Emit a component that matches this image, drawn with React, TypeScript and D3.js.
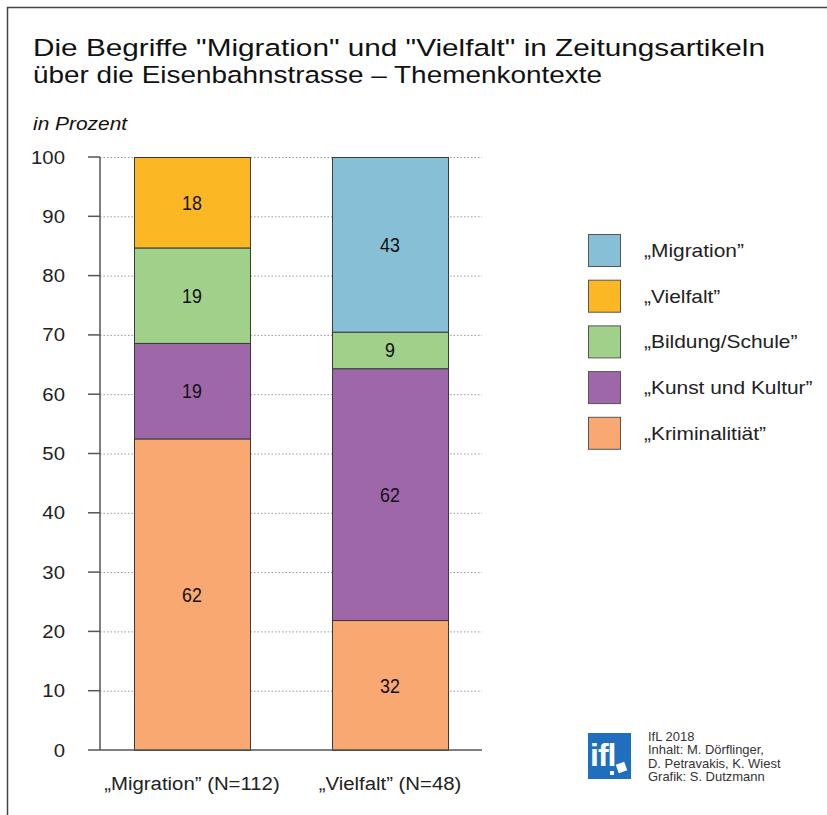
import { useEffect, useRef } from "react";
import * as d3 from "d3";

// counts of articles per topic context (bar heights are shares of the column total)
const groups = ["„Migration” (N=112)", "„Vielfalt” (N=48)"];
const topics = ["Kriminalitiät", "Kunst und Kultur", "Bildung/Schule", "Vielfalt", "Migration"];
const migrationCounts = [62, 19, 19, 18, 0];
const vielfaltCounts = [32, 62, 9, 0, 43];
const topicColors = ["#f8a870", "#9e67aa", "#a0d08a", "#fbb824", "#86bfd6"];
const legendOrder = ["Migration", "Vielfalt", "Bildung/Schule", "Kunst und Kultur", "Kriminalitiät"];
const yTicks = [0, 10, 20, 30, 40, 50, 60, 70, 80, 90, 100];
const titleLines = ['Die Begriffe "Migration" und "Vielfalt" in Zeitungsartikeln', "über die Eisenbahnstrasse – Themenkontexte"];
const creditLines = ["IfL 2018", "Inhalt: M. Dörflinger,", "D. Petravakis, K. Wiest", "Grafik: S. Dutzmann"];

const W = 827;
const H = 815;
const FONT = "'Liberation Sans', Arial, Helvetica, sans-serif";
const STRETCH = 1.13; // reference type is set a bit wide

export default function App() {
  const ref = useRef<SVGSVGElement | null>(null);

  useEffect(() => {
    const svg = d3.select(ref.current);
    svg.selectAll("*").remove();

    // frame: top and left edges only
    svg.append("line").attr("x1", 7).attr("x2", W).attr("y1", 7.5).attr("y2", 7.5)
      .attr("stroke", "#444").attr("stroke-width", 1.5);
    svg.append("line").attr("x1", 7.5).attr("x2", 7.5).attr("y1", 7).attr("y2", H)
      .attr("stroke", "#444").attr("stroke-width", 1.5);

    // title, fitted to the reference's line widths
    const titleWidths = [732, 569];
    titleLines.forEach((t, i) => {
      svg.append("text").attr("x", 33).attr("y", 55.5 + i * 27.5)
        .attr("font-family", FONT).attr("font-size", 24.5).attr("fill", "#111")
        .attr("textLength", titleWidths[i]).attr("lengthAdjust", "spacingAndGlyphs").text(t);
    });

    svg.append("text").attr("class", "wide").attr("x", 33).attr("y", 130).attr("font-family", FONT)
      .attr("font-style", "italic").attr("font-size", 18.5).attr("fill", "#111").text("in Prozent");

    const axisX = 100;
    const plotRight = 482;
    const y = d3.scaleLinear().domain([0, 100]).range([750, 157]);
    const x = d3.scaleBand().domain(groups).range([134, 448]).paddingInner(0.414).paddingOuter(0);

    // gridlines
    svg.append("g").selectAll("line").data(yTicks.filter((t) => t > 0)).join("line")
      .attr("x1", axisX).attr("x2", plotRight)
      .attr("y1", (d) => y(d) + 0.5).attr("y2", (d) => y(d) + 0.5)
      .attr("stroke", "#999").attr("stroke-width", 1).attr("stroke-dasharray", "1.5 2");

    // stacked bars
    const countsByGroup = [migrationCounts, vielfaltCounts];
    groups.forEach((g, gi) => {
      const counts = countsByGroup[gi];
      const total = d3.sum(counts);
      let acc = 0;
      counts.forEach((c, ti) => {
        if (c === 0) return;
        const y0 = (acc / total) * 100;
        acc += c;
        const y1 = (acc / total) * 100;
        svg.append("rect")
          .attr("x", x(g)! + 0.5).attr("width", x.bandwidth())
          .attr("y", y(y1) + 0.5).attr("height", y(y0) - y(y1))
          .attr("fill", topicColors[ti]).attr("stroke", "#3a3a3a").attr("stroke-width", 1);
        svg.append("text").attr("class", "narrow")
          .attr("x", x(g)! + x.bandwidth() / 2).attr("y", (y(y0) + y(y1)) / 2 + 7.5)
          .attr("text-anchor", "middle").attr("font-family", FONT)
          .attr("font-size", 21).attr("fill", "#111").text(c);
      });
    });

    // axes
    const axis = svg.append("g").attr("stroke", "#555").attr("stroke-width", 1.5);
    axis.append("line").attr("x1", axisX).attr("x2", axisX).attr("y1", y(100)).attr("y2", y(0));
    axis.append("line").attr("x1", 88).attr("x2", plotRight).attr("y1", y(0)).attr("y2", y(0));
    svg.append("g").selectAll("line").data(yTicks.filter((t) => t > 0)).join("line")
      .attr("x1", 88).attr("x2", axisX).attr("y1", (d) => y(d)).attr("y2", (d) => y(d))
      .attr("stroke", "#555").attr("stroke-width", 1.5);
    svg.append("g").selectAll("text").data(yTicks).join("text")
      .attr("class", "wide")
      .attr("x", 65).attr("y", (d) => y(d) + 6.5).attr("text-anchor", "end")
      .attr("font-family", FONT).attr("font-size", 18).attr("fill", "#222").text((d) => d);

    // category labels
    svg.append("g").selectAll("text").data(groups).join("text")
      .attr("class", "wide")
      .attr("x", (d) => x(d)! + x.bandwidth() / 2).attr("y", 790).attr("text-anchor", "middle")
      .attr("font-family", FONT).attr("font-size", 18).attr("fill", "#222").text((d) => d);

    // legend
    const legend = svg.append("g").attr("transform", "translate(588, 234)");
    legendOrder.forEach((name, i) => {
      const ti = topics.indexOf(name);
      const row = legend.append("g").attr("transform", `translate(0, ${i * 45.7})`);
      row.append("rect").attr("x", 0.5).attr("y", 0.5).attr("width", 32).attr("height", 32)
        .attr("fill", topicColors[ti]).attr("stroke", "#555").attr("stroke-width", 1);
      row.append("text").attr("class", "wide").attr("x", 56).attr("y", 23).attr("font-family", FONT)
        .attr("font-size", 18.5).attr("fill", "#222").text(`„${name}”`);
    });

    // credits with logo
    const logo = svg.append("g").attr("transform", "translate(588, 733)");
    logo.append("rect").attr("width", 43).attr("height", 46).attr("fill", "#1f6fbe");
    logo.append("text").attr("x", 2).attr("y", 33).attr("font-family", FONT).attr("font-weight", "bold")
      .attr("font-size", 32).attr("fill", "#fff").attr("letter-spacing", -1).text("ifl");
    logo.append("rect").attr("x", 29).attr("y", 30).attr("width", 9).attr("height", 9)
      .attr("fill", "#fff").attr("transform", "rotate(-20 33.5 34.5)");
    logo.append("rect").attr("x", 22).attr("y", 38).attr("width", 4).attr("height", 4).attr("fill", "#fff");
    creditLines.forEach((l, i) => {
      svg.append("text").attr("x", 648).attr("y", 741 + i * 13.4)
        .attr("font-family", FONT).attr("font-size", 13.5).attr("fill", "#333")
        .attr("class", "credit").text(l);
    });

    // set widths to match the reference's type
    const fit = (sel: string, k: number) =>
      svg.selectAll<SVGTextElement, unknown>(sel).each(function () {
        const len = this.getComputedTextLength();
        d3.select(this).attr("textLength", len * k).attr("lengthAdjust", "spacingAndGlyphs");
      });
    fit("text.wide", STRETCH);
    fit("text.narrow", 0.85);
    fit("text.credit", 0.96);
  }, []);

  return <svg ref={ref} width={W} height={H} style={{ display: "block", position: "absolute", left: 0, top: 0, background: "#fff" }} />;
}
